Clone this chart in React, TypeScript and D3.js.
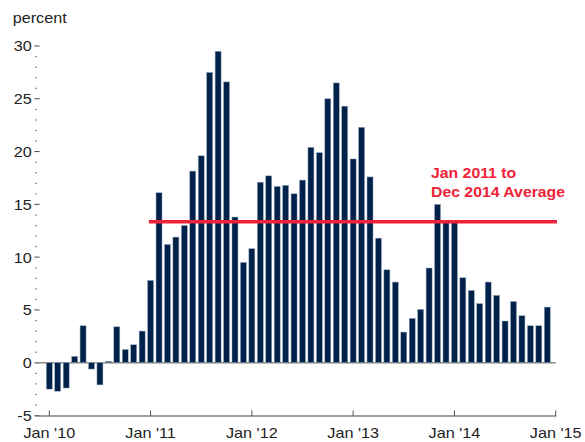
import React from "react";
import * as d3 from "d3";

const values: number[] = [
  // 2010
  -2.5, -2.7, -2.4, 0.6, 3.5, -0.6, -2.1, 0.13, 3.4, 1.25, 1.7, 3.0,
  // 2011
  7.8, 16.1, 11.2, 11.9, 13.0, 18.15, 19.6, 27.5, 29.5, 26.6, 13.8, 9.5,
  // 2012
  10.8, 17.1, 17.7, 16.7, 16.8, 16.0, 17.3, 20.4, 19.9, 25.0, 26.5, 24.3,
  // 2013
  19.3, 22.3, 17.6, 11.8, 8.8, 7.64, 2.9, 4.2, 5.05, 8.97, 15.0, 13.4,
  // 2014
  13.3, 8.05, 6.85, 5.6, 7.64, 6.38, 3.95, 5.8, 4.45, 3.5, 3.5, 5.27,
];
const averageValue = 13.35;
const averageStart = 12; // Jan 2011 (month index)
const averageEnd = 60; // Jan 2015
const xTickMonths = [0, 12, 24, 36, 48, 60];
const xTickLabels = ["Jan '10", "Jan '11", "Jan '12", "Jan '13", "Jan '14", "Jan '15"];
const yMajorTicks = [-5, 0, 5, 10, 15, 20, 25, 30];
const yMinorTicks = d3.range(-5, 31, 1).filter((v) => v % 5 !== 0);
const annotation = ["Jan 2011 to", "Dec 2014 Average"];
const yAxisTitle = "percent";

const W = 585;
const H = 442;
const font = "'Liberation Sans', Arial, Helvetica, sans-serif";
const SX = 1.08;

function T(props: {
  x: number;
  y: number;
  children: React.ReactNode;
  anchor?: string;
  size?: number;
  fill?: string;
  bold?: boolean;
  dy?: string;
  sx?: number;
}) {
  const { x, y, children, anchor = "start", size = 15, fill = "#222", bold, dy, sx = SX } = props;
  return (
    <text
      transform={`translate(${x},${y}) scale(${sx},1)`}
      textAnchor={anchor}
      fontSize={size}
      fill={fill}
      fontWeight={bold ? "bold" : "normal"}
      dy={dy}
    >
      {children}
    </text>
  );
}

export default function App() {
  const x = d3.scaleLinear().domain([0, 60]).range([49.3, 555.7]);
  const y = d3.scaleLinear().domain([-5, 30]).range([415.5, 46]);
  const barW = 6;
  const axisLeft = 35;
  const axisRight = x(60);

  return (
    <svg
      width={W}
      height={H}
      style={{ position: "absolute", left: 0, top: 0, background: "#fff" }}
      fontFamily={font}
    >
      <T x={12.7} y={23}>{yAxisTitle}</T>
      {yMajorTicks.map((t) => (
        <g key={"ym" + t}>
          <line x1={34.5} x2={39.5} y1={y(t)} y2={y(t)} stroke="#444" strokeWidth={1} />
          <T x={31.7} y={y(t)} dy="0.36em" anchor="end">
            {t}
          </T>
        </g>
      ))}
      {yMinorTicks.map((t) => (
        <rect key={"yn" + t} x={35.5} y={y(t) - 0.5} width={1.2} height={1.2} fill="#444" />
      ))}
      <line x1={axisLeft} x2={axisRight} y1={y(0)} y2={y(0)} stroke="#888" strokeWidth={1.5} />
      {values.map((v, i) => (
        <rect
          key={"b" + i}
          x={x(i) - barW / 2}
          y={y(Math.max(0, v))}
          width={barW}
          height={Math.abs(y(v) - y(0))}
          fill="#00214a"
          stroke="#9aabc2"
          strokeWidth={0.5}
        />
      ))}
      <line
        x1={x(averageStart) - 1.7}
        x2={x(averageEnd) + 1.3}
        y1={y(averageValue)}
        y2={y(averageValue)}
        stroke="#ee2238"
        strokeWidth={3.6}
      />
      {annotation.map((s, i) => (
        <T key={"a" + i} x={431} y={178 + i * 19.3} size={14.7} bold fill="#ee2238" sx={1.075}>
          {s}
        </T>
      ))}
      <line x1={axisLeft} x2={axisRight + 0.75} y1={416} y2={416} stroke="#808080" strokeWidth={1.5} />
      {xTickMonths.map((m, i) => (
        <g key={"xt" + m}>
          <line x1={x(m)} x2={x(m)} y1={410.5} y2={416} stroke="#555" strokeWidth={1} />
          <T x={x(m)} y={437.5} anchor="middle">
            {xTickLabels[i]}
          </T>
        </g>
      ))}
    </svg>
  );
}
